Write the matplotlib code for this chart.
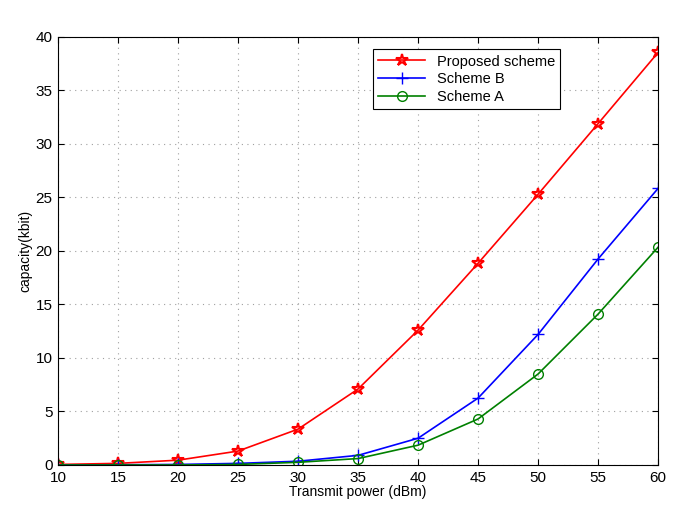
import numpy as np
import matplotlib
matplotlib.use('Agg')
from matplotlib import pyplot as plt

plt.rcParams['font.family'] = ['Liberation Sans', 'DejaVu Sans']

power = [10, 15, 20, 25, 30, 35, 40, 45, 50, 55, 60]
proposed = [0.05, 0.15, 0.45, 1.3, 3.35, 7.1, 12.6, 18.85, 25.3, 31.9, 38.55]
scheme_b = [0.0, 0.02, 0.05, 0.15, 0.35, 0.9, 2.5, 6.25, 12.2, 19.25, 25.85]
scheme_a = [0.0, 0.0, 0.0, 0.05, 0.25, 0.6, 1.85, 4.3, 8.5, 14.1, 20.35]

fig = plt.figure(figsize=(6.85, 5.26), dpi=100)
ax = fig.add_axes([0.0847, 0.116, 0.876, 0.8137])

ax.plot(power, proposed, color='red', marker='*', markersize=9, markerfacecolor='none',
        markeredgecolor='red', markeredgewidth=1.5, lw=1.2, label='Proposed scheme')
ax.plot(power, scheme_b, color='blue', marker='+', markersize=9, lw=1.2, label='Scheme B')
ax.plot(power, scheme_a, color='green', marker='o', markersize=7, markerfacecolor='none',
        lw=1.2, label='Scheme A')

ax.set_xlim(10, 60)
ax.set_ylim(0, 40)
ax.set_xticks(np.arange(10, 61, 5))
ax.set_yticks(np.arange(0, 41, 5))
ax.grid(True, linestyle=(0, (1, 4)), color='#a0a0a0', lw=0.8)
ax.tick_params(direction='in', labelsize=11, length=4, top=True, right=True, pad=4)
ax.set_xlabel('Transmit power (dBm)', fontsize=10, labelpad=0)
ax.set_ylabel('capacity(kbit)', fontsize=10, labelpad=2)

leg = ax.legend(loc='upper left', bbox_to_anchor=(0.513, 0.988), fontsize=10.5,
                fancybox=False, framealpha=1, edgecolor='black', handlelength=3.2,
                borderpad=0.35, labelspacing=0.25)
leg.get_frame().set_linewidth(0.8)

fig.savefig('out.png', dpi=100)
